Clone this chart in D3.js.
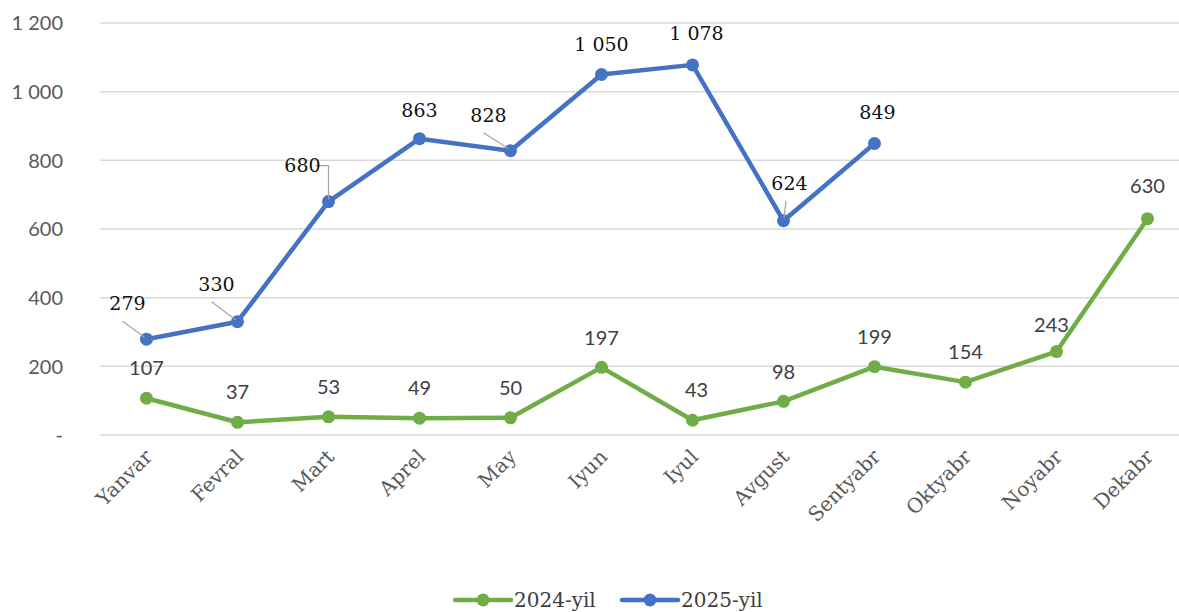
<!DOCTYPE html>
<html>
<head>
  <meta charset="utf-8">
  <script src="https://d3js.org/d3.v7.min.js"></script>
  <style>
    body { margin: 0; background: #fff; }
    svg { display: block; }
  </style>
</head>
<body>
<script>
  // month names (x categories)
  var months = ["Yanvar", "Fevral", "Mart", "Aprel", "May", "Iyun",
                "Iyul", "Avgust", "Sentyabr", "Oktyabr", "Noyabr", "Dekabr"];
  var values2024 = [107, 37, 53, 49, 50, 197, 43, 98, 199, 154, 243, 630];
  var values2025 = [279, 330, 680, 863, 828, 1050, 1078, 624, 849];
  var yTicks = [0, 200, 400, 600, 800, 1000, 1200];
  var seriesNames = ["2024-yil", "2025-yil"];

  var width = 1179, height = 612;
  var green = "#70ad47", blue = "#4472c4";

  // label offsets from the point (px), like the hand-moved labels in the original
  var off2025 = [[-19, -36], [-21, -38], [-26, -36], [0, -29], [-22, -36],
                 [0, -30], [4, -32], [6, -38], [3, -31]];
  var off2024 = months.map(function (m, i) {
    if (i === 6) return [4, -30];
    if (i === 10) return [-5, -27];
    if (i === 11) return [0, -33];
    return [0, -30];
  });

  var fmt = function (v) {
    if (v === 0) return "-";
    return d3.format(",")(v).replace(/,/g, " ");
  };

  var svg = d3.select("body").append("svg")
      .attr("width", width)
      .attr("height", height);

  var x = d3.scalePoint().domain(months).range([101, 1193]).padding(0.5);
  var y = d3.scaleLinear().domain([0, 1200]).range([435, 23]);

  // gridlines
  svg.append("g").selectAll("line")
    .data(yTicks)
    .enter().append("line")
      .attr("x1", 100).attr("x2", width)
      .attr("y1", function (d) { return y(d); })
      .attr("y2", function (d) { return y(d); })
      .attr("stroke", "#d9d9d9")
      .attr("stroke-width", 1.5);

  // y axis labels
  svg.append("g").selectAll("text")
    .data(yTicks)
    .enter().append("text")
      .attr("x", 63)
      .attr("y", function (d) { return y(d); })
      .attr("dy", "0.36em")
      .attr("text-anchor", "end")
      .style("font-family", "Lato, sans-serif")
      .style("font-size", "20px")
      .style("fill", "#595959")
      .text(fmt);

  // x axis labels, rotated
  svg.append("g").selectAll("text")
    .data(months)
    .enter().append("text")
      .attr("transform", function (d) { return "translate(" + (x(d) + 7) + ",458) rotate(-45)"; })
      .attr("text-anchor", "end")
      .style("font-family", "'DejaVu Serif', serif")
      .style("font-size", "20px")
      .style("fill", "#595959")
      .text(function (d) { return d; });

  var line = d3.line()
      .x(function (d, i) { return x(months[i]); })
      .y(function (d) { return y(d); });

  function drawSeries(vals, color) {
    var g = svg.append("g");
    g.append("path")
      .datum(vals)
      .attr("d", line)
      .attr("fill", "none")
      .attr("stroke", color)
      .attr("stroke-width", 4.5)
      .attr("stroke-linejoin", "round");
    g.selectAll("circle")
      .data(vals)
      .enter().append("circle")
        .attr("cx", function (d, i) { return x(months[i]); })
        .attr("cy", function (d) { return y(d); })
        .attr("r", 6.5)
        .attr("fill", color);
    return g;
  }

  drawSeries(values2024, green);
  drawSeries(values2025, blue);

  // leader lines for the moved 2025 labels
  var leaders = svg.append("g")
      .attr("stroke", "#a6a6a6")
      .attr("stroke-width", 1.2)
      .attr("fill", "none");
  [0, 1, 4].forEach(function (i) {
    var px = x(months[i]), py = y(values2025[i]);
    leaders.append("line")
      .attr("x1", px + off2025[i][0] - 5).attr("y1", py + off2025[i][1] + 18)
      .attr("x2", px - 2).attr("y2", py - 2);
  });
  (function () {
    var i = 2, px = x(months[i]), py = y(values2025[i]);
    leaders.append("path")
      .attr("d", "M" + (px - 13) + "," + (py + off2025[i][1]) + "H" + px + "V" + (py - 2));
  })();
  (function () {
    var i = 7, px = x(months[i]), py = y(values2025[i]);
    leaders.append("line")
      .attr("x1", px + 2.5).attr("y1", py - 20)
      .attr("x2", px + 0.5).attr("y2", py - 3);
  })();

  // data labels
  svg.append("g").selectAll("text")
    .data(values2024)
    .enter().append("text")
      .attr("x", function (d, i) { return x(months[i]) + off2024[i][0]; })
      .attr("y", function (d, i) { return y(d) + off2024[i][1]; })
      .attr("dy", "0.36em")
      .attr("text-anchor", "middle")
      .style("font-family", "Lato, sans-serif")
      .style("font-size", "20px")
      .style("fill", "#404040")
      .text(fmt);

  svg.append("g").selectAll("text")
    .data(values2025)
    .enter().append("text")
      .attr("x", function (d, i) { return x(months[i]) + off2025[i][0]; })
      .attr("y", function (d, i) { return y(d) + off2025[i][1]; })
      .attr("dy", "0.36em")
      .attr("text-anchor", "middle")
      .style("font-family", "'DejaVu Serif', serif")
      .style("font-size", "19px")
      .style("fill", "#111")
      .text(fmt);

  // legend
  var legend = svg.append("g");
  var legendItems = [
    { name: seriesNames[0], color: green, x0: 455 },
    { name: seriesNames[1], color: blue, x0: 622 }
  ];
  legendItems.forEach(function (it) {
    legend.append("line")
      .attr("x1", it.x0).attr("x2", it.x0 + 56)
      .attr("y1", 600).attr("y2", 600)
      .attr("stroke", it.color)
      .attr("stroke-width", 4.5)
      .attr("stroke-linecap", "round");
    legend.append("circle")
      .attr("cx", it.x0 + 28).attr("cy", 600).attr("r", 6.5)
      .attr("fill", it.color);
    legend.append("text")
      .attr("x", it.x0 + 59).attr("y", 607)
      .style("font-family", "'DejaVu Serif', serif")
      .style("font-size", "20px")
      .style("fill", "#404040")
      .text(it.name);
  });
</script>
</body>
</html>
